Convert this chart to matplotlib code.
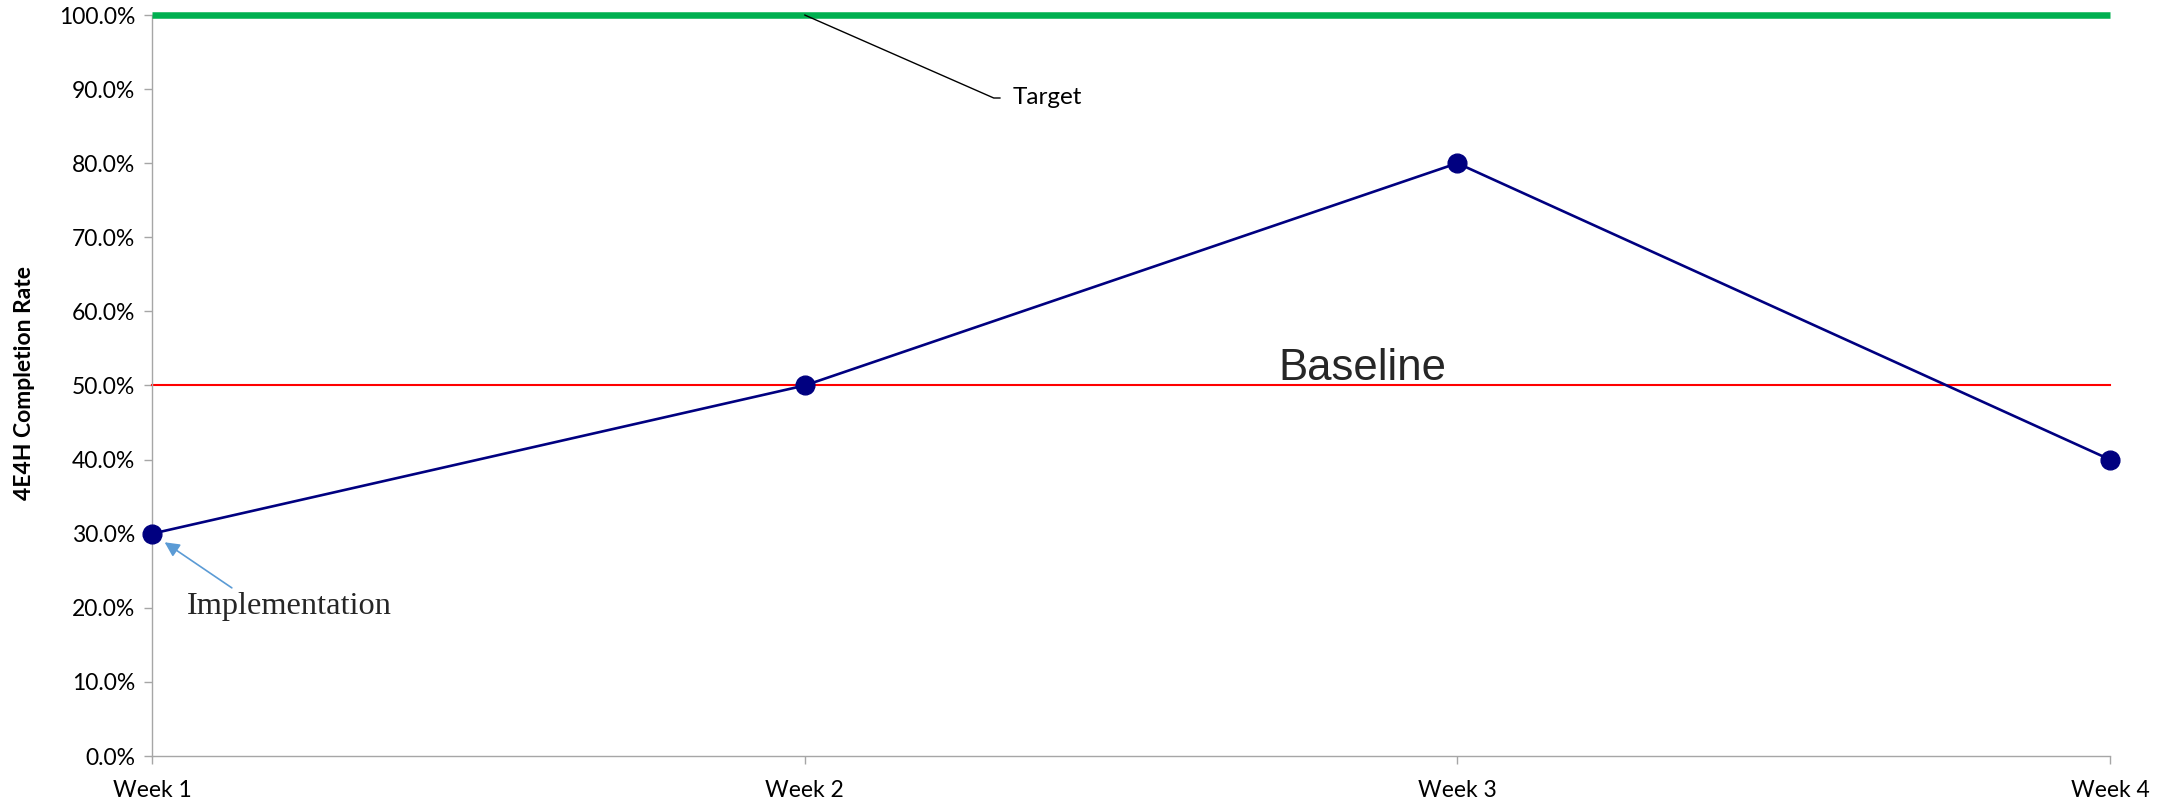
import matplotlib
matplotlib.use("Agg")
import matplotlib.pyplot as plt
from matplotlib.ticker import PercentFormatter, MultipleLocator

# Weekly 4E4H completion rates
weeks = ["Week 1", "Week 2", "Week 3", "Week 4"]
completion = [0.30, 0.50, 0.80, 0.40]
baseline = [0.50, 0.50, 0.50, 0.50]
target = [1.00, 1.00, 1.00, 1.00]

tick_font = "Lato"
fig = plt.figure(figsize=(21.81, 8.05), dpi=100)
ax = fig.add_axes([152 / 2181, 1 - 756 / 805, (2110 - 152) / 2181, (756 - 15) / 805])

x = list(range(len(weeks)))
ax.plot(x, target, color="#00B050", lw=4.7, solid_capstyle="butt", zorder=3, clip_on=False)
ax.plot(x, baseline, color="#FF0000", lw=1.5, zorder=2, clip_on=False)
ax.plot(x, completion, color="#000080", lw=1.9, marker="o", markersize=13.5,
        markerfacecolor="#000080", markeredgecolor="#000080", zorder=4, clip_on=False)

ax.set_xlim(0, len(weeks) - 1)
ax.set_ylim(0, 1.0)
ax.yaxis.set_major_locator(MultipleLocator(0.1))
ax.yaxis.set_major_formatter(PercentFormatter(xmax=1.0, decimals=1))
ax.set_xticks(x)
ax.set_xticklabels(weeks)

for s in ("top", "right"):
    ax.spines[s].set_visible(False)
for s in ("left", "bottom"):
    ax.spines[s].set_color("#A6A6A6")
    ax.spines[s].set_linewidth(1.0)
ax.tick_params(axis="both", colors="#A6A6A6", width=1.0, length=5.5, labelcolor="black",
               labelsize=16.5)
ax.tick_params(axis="y", pad=6.5)
ax.tick_params(axis="x", pad=12)
for lbl in ax.get_xticklabels() + ax.get_yticklabels():
    lbl.set_fontfamily(tick_font)

# Vertical axis title
fig.text(25 / 2181, 1 - 383 / 805, "4E4H Completion Rate", rotation=90,
         fontfamily=tick_font, fontweight="bold", fontsize=16.5, ha="center", va="center")

# Baseline label over the red line
ax.text(1.855, 0.508, "Baseline", fontfamily="Liberation Sans", fontsize=31.5,
        color="#262626", ha="center", va="baseline")

# Target callout with a short horizontal leader
ax.annotate("Target", xy=(1, 1.0), xytext=(208, -83), textcoords="offset pixels",
            fontfamily=tick_font, fontsize=17.5, color="black", ha="left", va="center",
            arrowprops=dict(arrowstyle="-", color="black", lw=1.0, relpos=(0, 0.5),
                            shrinkA=7, shrinkB=0,
                            connectionstyle="angle,angleA=180,angleB=156.3,rad=0"))

# Implementation callout pointing to the first week
ax.annotate("Implementation", xy=(0, 0.30), xytext=(35, -73), textcoords="offset pixels",
            fontfamily="Liberation Serif", fontsize=23.3, color="#262626",
            ha="left", va="center",
            arrowprops=dict(arrowstyle="-|>", color="#5B9BD5", lw=1.2, mutation_scale=22,
                            relpos=(0.25, 1.0), shrinkA=2, shrinkB=11))

fig.savefig("out.png", dpi=100, facecolor="white")
